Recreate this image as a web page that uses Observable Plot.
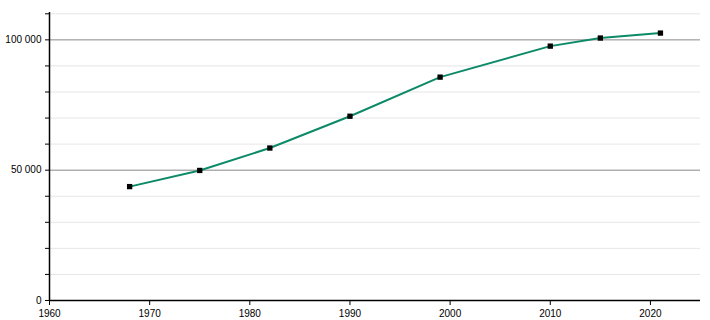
<!DOCTYPE html>
<html><head><meta charset="utf-8">
<script src="https://cdn.jsdelivr.net/npm/d3@7"></script>
<script src="https://cdn.jsdelivr.net/npm/@observablehq/plot@0.6"></script>
<style>body{margin:0;background:#fff}</style>
</head><body><div id="chart"></div>
<script>
const years = [1968, 1975, 1982, 1990, 1999, 2010, 2015, 2021];
const population = [43700, 49900, 58500, 70700, 85700, 97600, 100700, 102600];
const majorTicks = [0, 50000, 100000];
const minorTicks = [10000, 20000, 30000, 40000, 60000, 70000, 80000, 90000, 110000];
const xTicks = [1960, 1970, 1980, 1990, 2000, 2010, 2020];

const data = years.map((y, i) => ({year: y, pop: population[i]}));
const fmt = d => d3.format(",")(d).replace(/,/g, " ");
const allYTicks = [...majorTicks, ...minorTicks].sort((a, b) => a - b);

const chart = Plot.plot({
  width: 710, height: 320,
  marginLeft: 49, marginRight: 10, marginTop: 12, marginBottom: 20,
  style: {fontFamily: "Liberation Sans, Arial, sans-serif", fontSize: "10px", color: "#000", background: "#fff"},
  x: {type: "linear", domain: [1960, 2025], label: null},
  y: {type: "linear", domain: [0, 110500], label: null},
  marks: [
    Plot.ruleY(minorTicks, {stroke: "#e6e6e6", strokeWidth: 1}),
    Plot.ruleY(majorTicks.filter(d => d > 0), {stroke: "#888", strokeWidth: 1}),
    Plot.axisY(allYTicks, {tickFormat: d => majorTicks.includes(d) ? fmt(d) : "", tickSize: 4, label: null, tickPadding: 4}),
    Plot.axisX(xTicks, {tickFormat: d => String(d), label: null, tickSize: 5, tickPadding: 4}),
    Plot.ruleX([1960], {stroke: "#000", strokeWidth: 1.5}),
    Plot.ruleY([0], {stroke: "#000", strokeWidth: 1.5}),
    Plot.line(data, {x: "year", y: "pop", curve: "linear", stroke: "#0c8a68", strokeWidth: 2}),
    Plot.dot(data, {x: "year", y: "pop", symbol: "square", r: 3, fill: "#000", stroke: "none"})
  ]
});
document.getElementById("chart").append(chart);
</script>
</body></html>
